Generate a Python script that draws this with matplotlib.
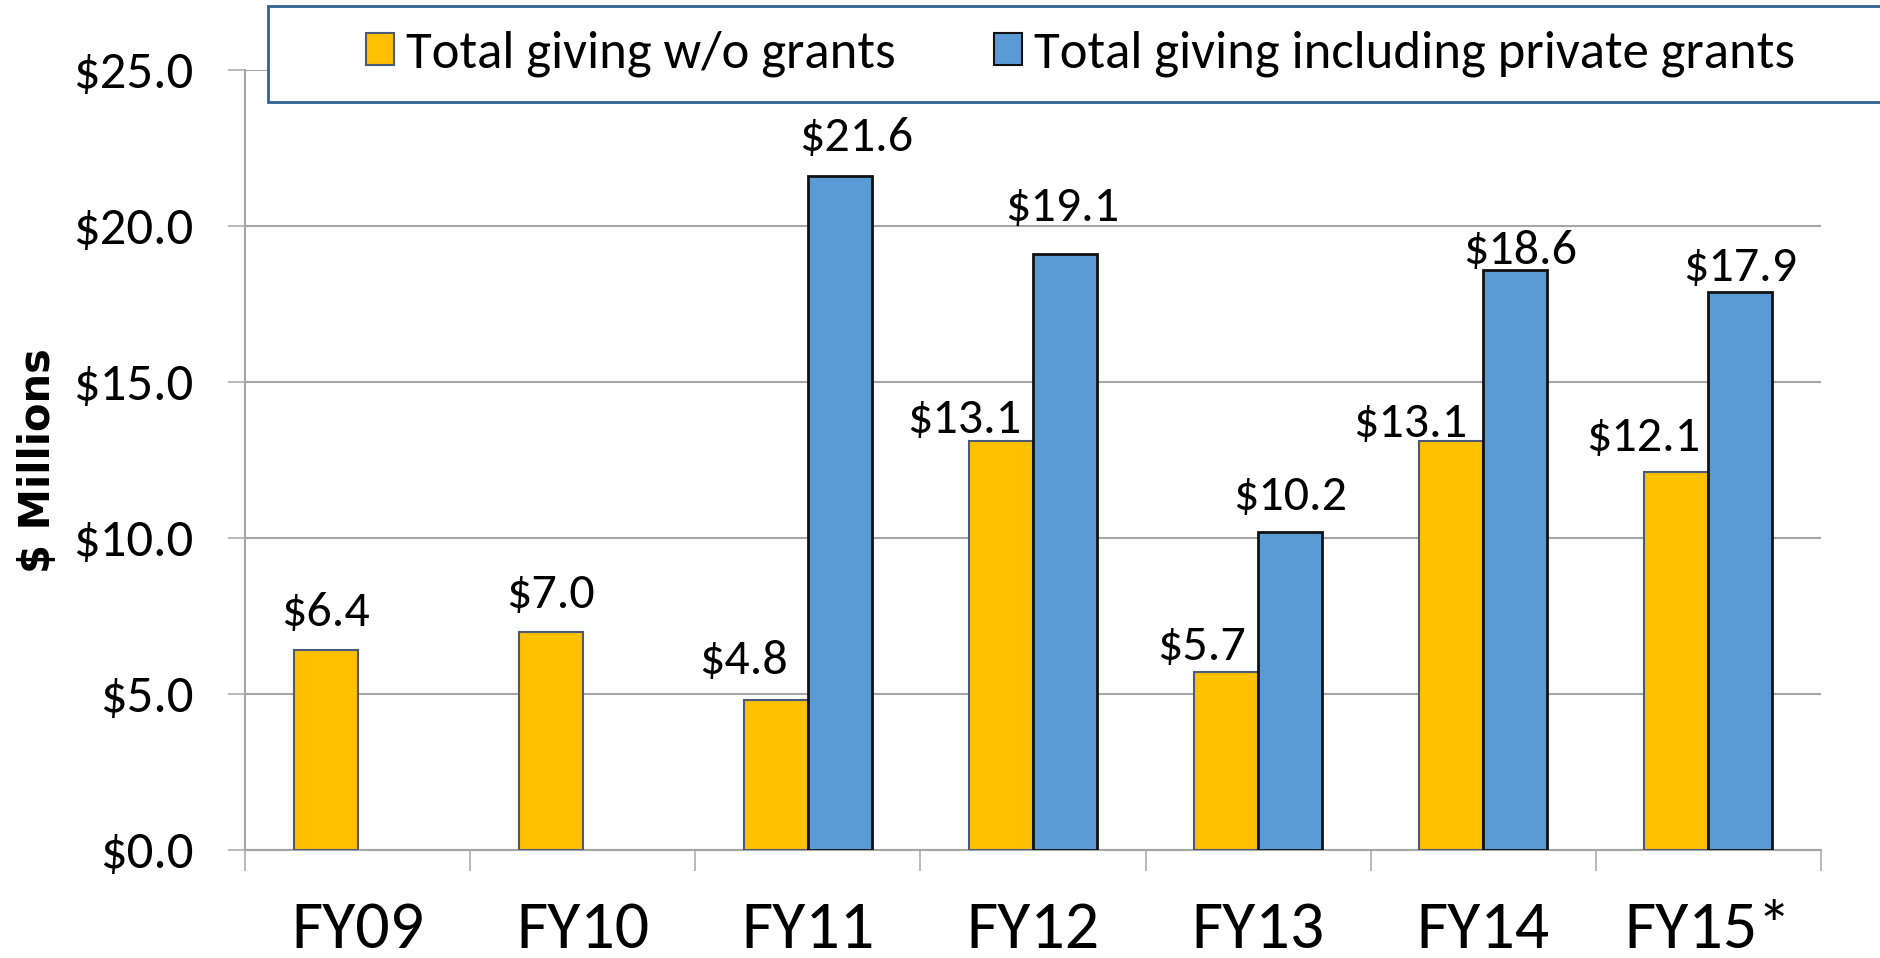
import matplotlib
matplotlib.use("Agg")
import matplotlib.pyplot as plt
from matplotlib.patches import Rectangle, Patch
from matplotlib import font_manager
import numpy as np

categories = ["FY09", "FY10", "FY11", "FY12", "FY13", "FY14", "FY15*"]
giving_wo_grants = [6.4, 7.0, 4.8, 13.1, 5.7, 13.1, 12.1]
giving_incl_grants = [None, None, 21.6, 19.1, 10.2, 18.6, 17.9]
series_names = ["Total giving w/o grants", "Total giving including private grants"]
yticks = [0, 5, 10, 15, 20, 25]

# label placement (pixel offsets: dx, gap above bar top)
yellow_label_off = [(0, 24), (0, 24), (-32, 26), (-37, 8), (-25, 12), (-41, 4), (-33, 21)]
blue_label_off = [None, None, (16, 25), (-3, 33), (0, 22), (5, 6), (0, 11)]

names = {f.name for f in font_manager.fontManager.ttflist}
FAM = "Carlito" if "Carlito" in names else "Lato"

YELLOW = "#FFC000"
BLUE = "#5B9BD5"
GRID = "#A6A6A6"

W, H = 1881, 958
fig = plt.figure(figsize=(W / 100, H / 100), dpi=100)
ax = fig.add_axes([245 / W, 1 - 850 / H, (1821 - 245) / W, (850 - 70) / H])

x = np.arange(len(categories))
bw = 0.2844
for i, v in enumerate(giving_wo_grants):
    ax.bar(x[i] - bw / 2, v, bw, color=YELLOW, edgecolor="#4A5A78", linewidth=1.5, zorder=3)
    dx, gap = yellow_label_off[i]
    ax.annotate(f"${v:.1f}", xy=(x[i] - bw / 2, v), xytext=(dx, gap), textcoords="offset pixels",
                ha="center", va="baseline", fontsize=36, family=FAM, color="black", zorder=4)
for i, v in enumerate(giving_incl_grants):
    if v is None:
        continue
    ax.bar(x[i] + bw / 2, v, bw, color=BLUE, edgecolor="#111111", linewidth=2, zorder=3)
    dx, gap = blue_label_off[i]
    ax.annotate(f"${v:.1f}", xy=(x[i] + bw / 2, v), xytext=(dx, gap), textcoords="offset pixels",
                ha="center", va="baseline", fontsize=36, family=FAM, color="black", zorder=4)

ax.set_xlim(-0.5, len(categories) - 0.5)
ax.set_ylim(0, 25)
ax.set_yticks(yticks)
ax.set_yticklabels([f"${t:.1f}" for t in yticks], fontsize=38, family=FAM)
ax.yaxis.grid(True, color=GRID, linewidth=1.5, zorder=0)
ax.set_axisbelow(True)
ax.tick_params(axis="y", length=12.2, width=1.1, color=GRID, pad=25)

ax.set_xticks(x)
ax.set_xticklabels(categories, fontsize=49, family=FAM)
ax.set_xticks(np.arange(len(categories) + 1) - 0.5, minor=True)
ax.tick_params(axis="x", which="major", length=0, pad=37)
ax.tick_params(axis="x", which="minor", length=15, width=1.1, color=GRID)

for s in ["top", "right"]:
    ax.spines[s].set_visible(False)
for s in ["left", "bottom"]:
    ax.spines[s].set_color(GRID)
    ax.spines[s].set_linewidth(1.5)

fig.text(38 / W, 1 - 461 / H, "$ Millions", rotation=90, ha="center", va="center",
         fontsize=30, family="DejaVu Sans", fontweight="bold")

# legend box
fig.patches.append(Rectangle((268 / W, 1 - 102 / H), (W + 10 - 268) / W, 96 / H,
                             transform=fig.transFigure, facecolor="white",
                             edgecolor="#2F6195", linewidth=2, zorder=5))
handles = [Patch(facecolor=YELLOW, edgecolor="#4A5A78", linewidth=1.5),
           Patch(facecolor=BLUE, edgecolor="#111111", linewidth=1.5)]
leg = fig.legend(handles, series_names, loc="center left", bbox_to_anchor=(366 / W, 1 - 54 / H),
                 ncol=2, frameon=False, borderpad=0, borderaxespad=0,
                 handlelength=0.53, handleheight=0.53,
                 handletextpad=0.23, columnspacing=1.86, prop={"family": FAM, "size": 38})
leg.set_zorder(6)

fig.savefig("out.png", dpi=100)
